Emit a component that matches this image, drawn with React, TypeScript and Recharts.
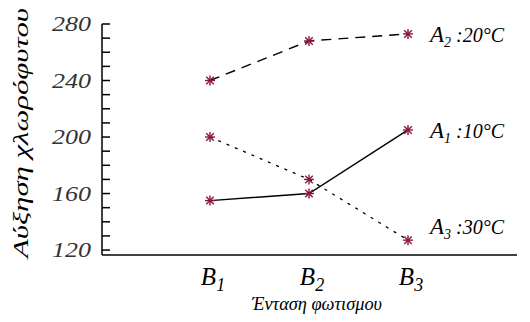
import { Label, Line, LineChart, XAxis, YAxis } from "recharts";

const categories = ["1", "2", "3"];
const a1Values = [155, 160, 205];
const a2Values = [240, 268, 273];
const a3Values = [200, 170, 127];
const yTicks = [120, 130, 140, 150, 160, 170, 180, 190, 200, 210, 220, 230, 240, 250, 260, 270, 280];
const yLabels = [120, 160, 200, 240, 280];
const seriesSubs = ["1", "2", "3"];
const seriesTemps = ["10", "20", "30"];

const data = categories.map((c, i) => ({
  name: c,
  a1: a1Values[i],
  a2: a2Values[i],
  a3: a3Values[i],
}));

const serif = { fontFamily: "'Liberation Serif', 'Times New Roman', serif", fontStyle: "italic" };
const MARK = "#8b1538";

const Star = (props: any) => {
  const { cx, cy } = props;
  if (cx == null || cy == null) return null;
  const r = 5;
  const d = r * 0.75;
  return (
    <g stroke={MARK} strokeWidth={1.4}>
      <line x1={cx - r} y1={cy} x2={cx + r} y2={cy} />
      <line x1={cx} y1={cy - r} x2={cx} y2={cy + r} />
      <line x1={cx - d} y1={cy - d} x2={cx + d} y2={cy + d} />
      <line x1={cx - d} y1={cy + d} x2={cx + d} y2={cy - d} />
    </g>
  );
};

const seriesLabel = (k: number, dy: number) => (props: any) => {
  const { x, y, index } = props;
  if (index !== categories.length - 1) return null;
  return (
    <text x={x + 22} y={y + dy} style={serif} fill="#000">
      <tspan fontSize={23}>A</tspan>
      <tspan fontSize={14} dy={5}>{seriesSubs[k]}</tspan>
      <tspan fontSize={20} dy={-5}>{" :" + seriesTemps[k] + "°C"}</tspan>
    </text>
  );
};

// tick stubs point into the plot, only every 40 gets a number
const YTick = (props: any) => {
  const { x, y, payload } = props;
  const v = payload.value;
  return (
    <g>
      <line x1={x} y1={y} x2={x + 8} y2={y} stroke="#000" strokeWidth={1.5} />
      {yLabels.includes(v) && (
        <text
          x={x - 11}
          y={y + 7}
          textAnchor="end"
          style={serif}
          fontSize={22}
          textLength={39}
          lengthAdjust="spacingAndGlyphs"
          fill="#333"
        >
          {v}
        </text>
      )}
    </g>
  );
};

const XTick = (props: any) => {
  const { x, payload } = props;
  return (
    <text x={x + 3} y={285} textAnchor="middle" style={serif} fill="#000">
      <tspan fontSize={25}>B</tspan>
      <tspan fontSize={18} dy={6}>{payload.value}</tspan>
    </text>
  );
};

export default function App() {
  return (
    <div style={{ position: "absolute", left: 0, top: 0, background: "#fff" }}>
      <LineChart
        width={530}
        height={322}
        data={data}
        margin={{ top: 24, right: 13, bottom: 17, left: 0 }}
      >
        <XAxis
          dataKey="name"
          padding={{ left: 108, right: 109 }}
          axisLine={{ stroke: "#000", strokeWidth: 1.5 }}
          tickLine={false}
          tick={<XTick />}
          height={50}
        >
          <Label
            content={() => (
              <text
                x={317}
                y={310}
                textAnchor="middle"
                style={serif}
                fontSize={18}
                textLength={130}
                lengthAdjust="spacingAndGlyphs"
                fill="#000"
              >
                Ένταση φωτισμου
              </text>
            )}
          />
        </XAxis>
        <YAxis
          type="number"
          domain={[116.5, 280]}
          ticks={yTicks}
          width={102}
          tickSize={0}
          tickMargin={0}
          tickLine={false}
          axisLine={{ stroke: "#000", strokeWidth: 1.5 }}
          tick={YTick}
          interval={0}
        >
          <Label
            content={() => (
              <text
                x={0}
                y={0}
                transform="translate(28 133) rotate(-90)"
                textAnchor="middle"
                style={serif}
                fontSize={20}
                textLength={250}
                lengthAdjust="spacingAndGlyphs"
                fill="#000"
              >
                Αύξηση χλωρόφυτου
              </text>
            )}
          />
        </YAxis>
        <Line
          dataKey="a1"
          type="linear"
          stroke="#000"
          strokeWidth={1.4}
          dot={<Star />}
          label={seriesLabel(0, 8)}
          isAnimationActive={false}
        />
        <Line
          dataKey="a2"
          type="linear"
          stroke="#000"
          strokeWidth={1.4}
          strokeDasharray="10 7"
          dot={<Star />}
          label={seriesLabel(1, 8)}
          isAnimationActive={false}
        />
        <Line
          dataKey="a3"
          type="linear"
          stroke="#000"
          strokeWidth={1.3}
          strokeDasharray="3 6"
          dot={<Star />}
          label={seriesLabel(2, -6)}
          isAnimationActive={false}
        />
      </LineChart>
    </div>
  );
}
